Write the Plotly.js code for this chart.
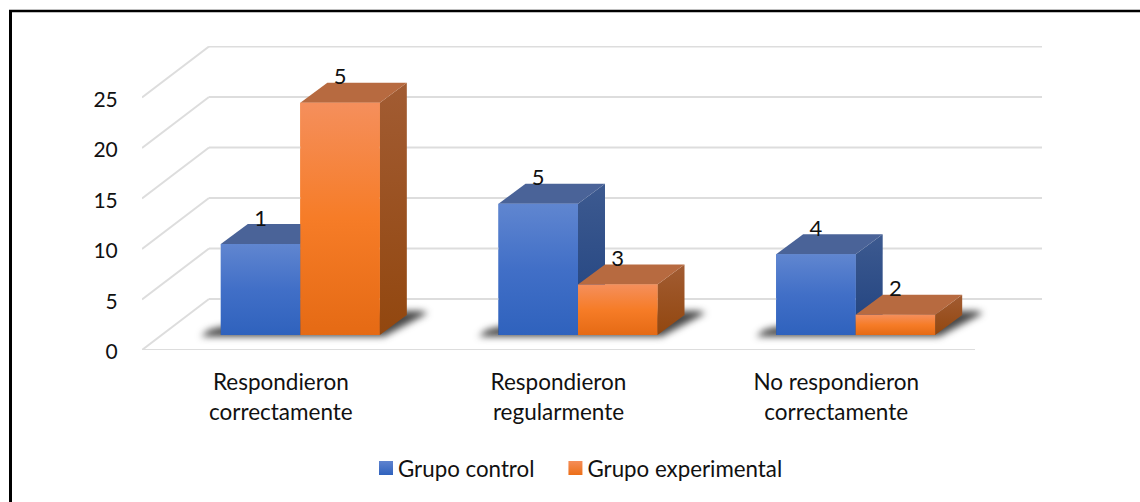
<!DOCTYPE html>
<html><head><meta charset="utf-8">
<script src="https://cdn.plot.ly/plotly-3.0.1.min.js"></script>
<style>html,body{margin:0;padding:0;background:#fff;overflow:hidden}#c{width:1140px;height:502px}</style>
</head><body><div id="c"></div>
<script>
const lineOne = ['Respondieron','Respondieron','No respondieron'];
const lineTwo = ['correctamente','regularmente','correctamente'];
const grupoControl = [9,13,8];
const grupoExperimental = [23,5,2];
const labelsControl = ['1','5','4'];
const labelsExperimental = ['5','3','2'];
const yTicks = [0,5,10,15,20,25];

// projection of the pseudo-3D scene, in axis units
const PXX = 277.67, PXY = 10.1;
const wallDX = 67/PXX, wallDY = 51/PXY;
const barDX = 27/PXX, barDY = 20/PXY;
const floorY = 15/PXY;
const barW = 79.5/PXX, groupStart = -60/PXX;
const xMax = 2.5 + wallDX, yMax = 304/PXY;
const font = 'Lato, Carlito, Calibri, sans-serif';
const textCol = '#111111';
const gridCol = '#dddddd';

const traces = [];
const cats = lineOne.map((_, i) => i);
function line(xs, ys){
  traces.push({type:'scatter',mode:'lines',x:xs,y:ys,line:{color:gridCol,width:2},hoverinfo:'skip',showlegend:false,cliponaxis:false});
}
yTicks.forEach(t=>{
  line([-0.5,-0.5+wallDX],[t,t+wallDY]);
  line([-0.5+wallDX,2.5+wallDX],[t+wallDY,t+wallDY]);
});
line([-0.5,2.5],[0,0]);

// real bars
function bars(name,vals,col,off){
  traces.push({type:'bar',name,x:cats.map(c=>c+groupStart+off*barW+barW/2),y:vals,base:vals.map(()=>floorY),width:barW,
    marker:{color:col,line:{width:0}},showlegend:false,hoverinfo:'skip'});
}
bars('Grupo control',grupoControl,'#4472c4',0);
bars('Grupo experimental',grupoExperimental,'#f57c28',1);

function poly(xs,ys,grad){
  const t={type:'scatter',mode:'lines',x:xs.concat(xs[0]),y:ys.concat(ys[0]),fill:'toself',line:{width:0,color:'rgba(0,0,0,0)'},hoverinfo:'skip',showlegend:false,cliponaxis:false};
  if(typeof grad==='string'){t.fillcolor=grad}else{t.fillgradient={type:'vertical',colorscale:grad}; t.fillcolor='rgba(0,0,0,0)'}
  traces.push(t);
}
// floor shadows (softened with a blur once drawn)
const shadowIdx=[];
function shadow(i){
  const x0=i+groupStart, x1=x0+2*barW;
  const p=v=>v/PXX, q=v=>v/PXY;
  const scatterSoFar=traces.filter(t=>t.type==='scatter').length;
  shadowIdx.push(scatterSoFar);
  poly([x0-p(20),x1+p(4),x1+barDX+p(21),x1+barDX+p(14),x1+barDX-p(10),x0,x0-p(12)],
       [floorY-q(1.5),floorY-q(1.5),floorY+barDY+q(2),floorY+barDY+q(4),floorY+barDY+q(4),floorY+q(8),floorY+q(5)],
       'rgba(30,30,30,0.82)');
}
cats.forEach(shadow);

const skin = {
  blue:{front:[[0,'#2f62bd'],[0.5,'#416fc7'],[1,'#6086d0']],side:[[0,'#20427f'],[1,'#3d5a90']],top:'#4a6398'},
  orange:{front:[[0,'#e56a14'],[0.5,'#f67c27'],[1,'#f58f5c']],side:[[0,'#92470f'],[1,'#a25c33']],top:'#b76a40'}
};
function box(i,off,v,s){
  const x0=i+groupStart+off*barW, x1=x0+barW, y0=floorY, y1=floorY+v;
  poly([x1,x1+barDX,x1+barDX,x1],[y0,y0+barDY,y1+barDY,y1],s.side);
  poly([x0,x1,x1+barDX,x0+barDX],[y1,y1,y1+barDY,y1+barDY],s.top);
  poly([x0,x1,x1,x0],[y0,y0,y1,y1],s.front);
}
cats.forEach(i=>box(i,0,grupoControl[i],skin.blue));
cats.forEach(i=>box(i,1,grupoExperimental[i],skin.orange));

function labels(vals,txt,off){
  traces.push({type:'scatter',mode:'text',x:cats.map(c=>c+groupStart+off*barW+barW/2),y:vals.map(v=>floorY+v+24/PXY),text:txt,
    textposition:'middle center',textfont:{family:font,size:22,color:textCol},hoverinfo:'skip',showlegend:false,cliponaxis:false});
}
labels(grupoControl,labelsControl,0);
labels(grupoExperimental,labelsExperimental,1);

// legend entries
function leg(name,col,top){
  traces.push({type:'scatter',mode:'markers',name,x:[null],y:[null],hoverinfo:'skip',
    marker:{symbol:'square',size:14,color:top,gradient:{type:'vertical',color:col},line:{width:0}}});
}
leg('Grupo control','#2f62bd','#5f83cf');
leg('Grupo experimental','#ec6f18','#f58d58');
// second x axis holds the second line of each tick label
traces.push({type:'scatter',mode:'markers',x:[null],y:[null],xaxis:'x2',showlegend:false,hoverinfo:'skip'});

const W=900;
const pX=px=>(px-142)/W, pY=py=>(350-py)/304;
const layout = {
  width:1140,height:502,paper_bgcolor:'#fff',plot_bgcolor:'rgba(0,0,0,0)',
  margin:{l:142,r:98,t:46,b:152,pad:0},
  font:{family:font,color:textCol},
  barmode:'overlay',showlegend:true,
  xaxis:{range:[-0.5,xMax],tickmode:'array',tickvals:cats,ticktext:lineOne,showgrid:false,zeroline:false,showline:false,
    ticks:'outside',ticklen:12,tickcolor:'rgba(0,0,0,0)',tickfont:{family:font,size:22.5,color:textCol},automargin:false},
  xaxis2:{range:[-0.5,xMax],overlaying:'x',side:'bottom',anchor:'y',tickmode:'array',tickvals:cats,ticktext:lineTwo,showgrid:false,zeroline:false,showline:false,
    ticks:'outside',ticklen:42,tickcolor:'rgba(0,0,0,0)',tickfont:{family:font,size:22.5,color:textCol},automargin:false},
  yaxis:{range:[0,yMax],tickmode:'array',tickvals:yTicks,showgrid:false,zeroline:false,showline:false,
    ticks:'outside',ticklen:19,tickcolor:'rgba(0,0,0,0)',tickfont:{family:font,size:21,color:textCol},ticklabelshift:2,automargin:false},
  legend:{orientation:'h',x:pX(366),xanchor:'left',y:pY(468),yanchor:'middle',bgcolor:'rgba(0,0,0,0)',
    font:{family:font,size:22.3,color:textCol},itemclick:false,itemdoubleclick:false},
  shapes:[
    {type:'line',xref:'paper',yref:'paper',x0:pX(10.5),x1:pX(10.5),y0:pY(10),y1:pY(502),line:{color:'#000',width:3}},
    {type:'line',xref:'paper',yref:'paper',x0:pX(9),x1:pX(1140),y0:pY(11),y1:pY(11),line:{color:'#000',width:2.5}}
  ]
};
Plotly.newPlot('c',traces,layout,{displayModeBar:false,staticPlot:true}).then(()=>{
  // soften the floor shadows
  const drawn=document.querySelectorAll('#c .cartesianlayer .subplot.xy .scatterlayer .trace');
  shadowIdx.forEach(k=>{ if(drawn[k]) drawn[k].style.filter='blur(3.5px)'; });
  // match the swatch-to-text gap and the spacing between the two legend entries
  const root=document.querySelector('#c .legend');
  root.querySelectorAll('.legendtext').forEach(t=>{
    t.setAttribute('x', parseFloat(t.getAttribute('x'))-8);
  });
  const rows=root.querySelectorAll('.traces');
  const clip=root.querySelector('.scrollbox');
  if(clip) clip.removeAttribute('clip-path');
  if(rows[1]){
    const m=/translate\(([-\d.]+),\s*([-\d.]+)\)/.exec(rows[1].getAttribute('transform')||'');
    if(m) rows[1].setAttribute('transform','translate('+(parseFloat(m[1])+8)+','+m[2]+')');
  }
});
</script></body></html>
